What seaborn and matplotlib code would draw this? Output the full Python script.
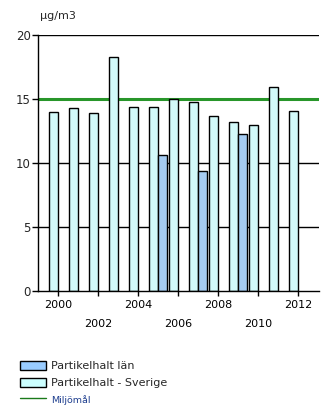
import matplotlib
matplotlib.use("Agg")
import matplotlib.pyplot as plt
import seaborn as sns
import pandas as pd
from matplotlib.patches import Patch
from matplotlib.lines import Line2D
from matplotlib.ticker import FixedLocator

# Annual mean particle concentration (µg/m3)
years_sverige = [2000, 2001, 2002, 2003, 2004, 2005, 2006, 2007, 2008, 2009, 2010, 2011, 2012]
values_sverige = [14.0, 14.3, 13.9, 18.3, 14.4, 14.4, 15.0, 14.8, 13.7, 13.2, 13.0, 15.9, 14.1]
years_lan = [2005, 2007, 2009]
values_lan = [10.6, 9.4, 12.3]
environmental_goal = 15

series_lan = "Partikelhalt län"
series_sverige = "Partikelhalt - Sverige"
goal_label = "Miljömål"
unit_label = "µg/m3"

df = pd.concat([
    pd.DataFrame({"år": years_sverige, "värde": values_sverige, "serie": series_sverige}),
    pd.DataFrame({"år": years_lan, "värde": values_lan, "serie": series_lan}),
], ignore_index=True)

sns.set_style("white")
plt.rcParams["font.family"] = ["DejaVu Sans"]

color_lan = "#99ccff"
color_sverige = "#ccffff"
goal_color = "#28962a"

fig = plt.figure(figsize=(3.30, 4.09), dpi=100)
W, H = 330, 409
ax = fig.add_axes([38 / W, (H - 291) / H, 281 / W, 256 / H])

sns.barplot(data=df, x="år", y="värde", hue="serie",
            hue_order=[series_sverige, series_lan],
            palette={series_sverige: color_sverige, series_lan: color_lan},
            native_scale=True, dodge=True, width=0.88,
            edgecolor="black", linewidth=1.0, legend=False, ax=ax, zorder=3)

for y in [5, 10, 20]:
    ax.axhline(y, color="black", lw=1.0, zorder=1)
ax.axhline(environmental_goal, color=goal_color, lw=2.2, zorder=2)

ax.set_xlim(1999, 2013.05)
ax.set_ylim(0, 20)
ax.set_yticks([0, 5, 10, 15, 20])
ax.set_yticklabels(["0", "5", "10", "15", "20"])

major_years = [2000, 2004, 2008, 2012]
minor_years = [2002, 2006, 2010]
ax.xaxis.set_major_locator(FixedLocator(major_years))
ax.xaxis.set_minor_locator(FixedLocator(minor_years))
ax.set_xticklabels([str(y) for y in major_years])
ax.set_xticklabels([str(y) for y in minor_years], minor=True)

ax.tick_params(axis="x", which="both", direction="out", length=3.6, width=1,
               color="black", labelsize=8, labelcolor="black", bottom=True)
ax.tick_params(axis="x", which="major", pad=3)
ax.tick_params(axis="x", which="minor", pad=16.5)
ax.tick_params(axis="y", direction="out", length=4.3, width=1, color="black",
               labelsize=8.5, pad=1, left=True)

ax.set_xlabel("")
ax.set_ylabel("")
for side in ["top", "right"]:
    ax.spines[side].set_visible(False)
for side in ["left", "bottom"]:
    ax.spines[side].set_color("black")
    ax.spines[side].set_linewidth(1.0)
    ax.spines[side].set_zorder(4)

fig.text(40 / W, 1 - 16 / H, unit_label, fontsize=8, ha="left", va="center")

handles = [
    Patch(facecolor=color_lan, edgecolor="black", linewidth=1.0, label=series_lan),
    Patch(facecolor=color_sverige, edgecolor="black", linewidth=1.0, label=series_sverige),
    Line2D([0], [0], color="#1a7a1a", lw=1.0, label=goal_label),
]
leg = fig.legend(handles=handles, loc="upper left", bbox_to_anchor=(20 / W, 1 - 361 / H),
                 frameon=False, fontsize=8, handlelength=2.35, handleheight=0.9,
                 handletextpad=0.45, labelspacing=0.55, borderaxespad=0, borderpad=0)
texts = leg.get_texts()
texts[2].set_fontsize(6.8)
texts[2].set_color("#1f3f8f")

fig.savefig("out.png", dpi=100)
